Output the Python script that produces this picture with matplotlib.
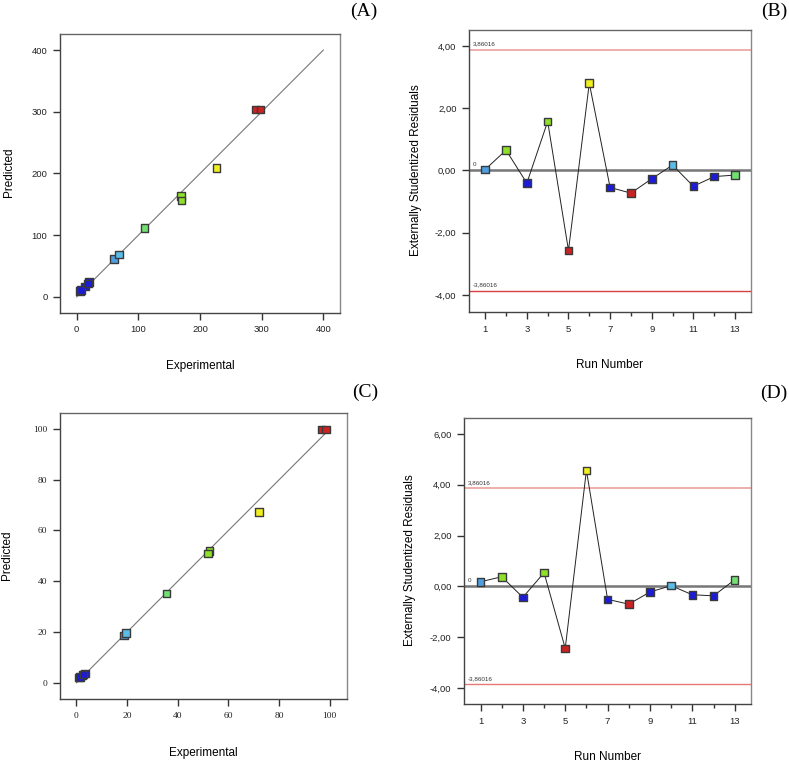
import numpy as np
import matplotlib.pyplot as plt
from matplotlib.ticker import FuncFormatter, MultipleLocator

# colours used by the design software (low -> high response)
BLUE = '#1c1cd8'
LBLUE = '#4f9fe0'
LBLUE2 = '#5cbce8'
GREEN = '#72e072'
YGREEN = '#8ee028'
YELLOW = '#f0f020'
RED = '#cc2222'

run_colors = [LBLUE, YGREEN, BLUE, YGREEN, RED, YELLOW, BLUE, RED, BLUE, LBLUE2, BLUE, BLUE, GREEN]
runs = np.arange(1, 14)

# (A) predicted vs experimental, response 1
exp_a = [61, 169, 14, 170, 290, 227, 5, 298, 20, 69, 7, 18, 110]
pred_a = [61.5, 163.5, 17, 156.5, 304, 209, 10, 304, 24, 68.5, 11, 22, 112]

# (B) externally studentized residuals, response 1
res_b = [0.03, 0.65, -0.41, 1.57, -2.57, 2.80, -0.55, -0.73, -0.27, 0.17, -0.51, -0.20, -0.15]

# (C) predicted vs experimental, response 2
exp_c = [18.8, 52.5, 2.4, 52.0, 96.7, 72.1, 1.0, 98.6, 3.3, 19.5, 1.3, 2.8, 35.5]
pred_c = [18.6, 52.0, 3.0, 50.9, 99.8, 67.4, 2.1, 99.8, 3.7, 19.5, 2.3, 3.3, 35.1]

# (D) externally studentized residuals, response 2
res_d = [0.18, 0.38, -0.43, 0.54, -2.44, 4.57, -0.51, -0.70, -0.22, 0.03, -0.33, -0.37, 0.26]

limit = 3.86016

W, H = 789, 764
fig = plt.figure(figsize=(W / 100, H / 100), dpi=100)

SANS = 'Liberation Sans'
SERIF = 'Liberation Serif'


def box(l, t, r, b):
    return fig.add_axes([l / W, 1 - b / H, (r - l) / W, (b - t) / H])


def style(ax, tickfont=SANS):
    for s in ax.spines.values():
        s.set_color('#444444')
        s.set_linewidth(1.0)
    ax.spines['right'].set_color('#888888')
    ax.spines['top'].set_color('#666666')
    ax.tick_params(direction='out', length=5, width=1, color='#333333',
                   labelsize=6.8, labelcolor='#222222', pad=4)
    for lab in ax.get_xticklabels() + ax.get_yticklabels():
        lab.set_family(tickfont)


def squares(ax, x, y, colors):
    ax.scatter(x, y, s=30, marker='s', color=colors, edgecolors='#3a3a3a',
               linewidths=1.0, zorder=4)


def figtext(x, y, s, **kw):
    fig.text(x / W, 1 - y / H, s, ha='center', va='center', **kw)


comma = FuncFormatter(lambda v, p: ('%.2f' % v).replace('.', ','))

# ---- (A)
ax = box(60, 34, 340, 313)
ax.plot([0, 400], [0, 400], color='#777777', lw=0.8, zorder=2)
squares(ax, exp_a, pred_a, run_colors)
ax.set_xlim(-27, 427)
ax.set_ylim(-26, 426)
ax.set_xticks([0, 100, 200, 300, 400])
ax.set_yticks([0, 100, 200, 300, 400])
style(ax)
figtext(200, 366, 'Experimental', family=SANS, fontsize=8.5)
figtext(9, 172, 'Predicted', family=SANS, fontsize=8.5, rotation=90)
figtext(364, 11, '(A)', family=SERIF, fontsize=14)


def residuals(ax, res, ylim, yticks, low_color):
    ax.axhline(0, color='#777777', lw=1.8, zorder=1)
    ax.axhline(limit, color='#eea0a0', lw=1.2, zorder=1)
    ax.axhline(-limit, color=low_color, lw=1.0, zorder=1)
    ax.plot(runs, res, color='#222222', lw=0.7, zorder=2)
    squares(ax, runs, res, run_colors)
    ax.set_xlim(0.22, 13.77)
    ax.set_ylim(*ylim)
    ax.set_yticks(yticks)
    ax.yaxis.set_major_formatter(comma)
    ax.xaxis.set_major_locator(MultipleLocator(2, offset=1))
    ax.xaxis.set_minor_locator(MultipleLocator(1))
    style(ax)
    ax.tick_params(axis='x', which='minor', direction='out', length=3, width=1, color='#333333')
    ax.text(0.4, limit + 0.12, '3,86016', fontsize=4.5, family=SANS, color='#333333', va='bottom')
    ax.text(0.4, -limit + 0.12, '-3,86016', fontsize=4.5, family=SANS, color='#333333', va='bottom')
    ax.text(0.4, 0.12, '0', fontsize=4.5, family=SANS, color='#333333', va='bottom')


# ---- (B)
ax = box(469, 30, 751, 312)
residuals(ax, res_b, (-4.55, 4.51), [-4, -2, 0, 2, 4], '#d84040')
figtext(609, 365, 'Run Number', family=SANS, fontsize=8.5)
figtext(416, 170, 'Externally Studentized Residuals', family=SANS, fontsize=8.5, rotation=90)
figtext(774, 11, '(B)', family=SERIF, fontsize=14)

# ---- (C)
ax = box(60, 413, 347, 699)
ax.plot([0, 100], [0, 100], color='#777777', lw=0.8, zorder=2)
squares(ax, exp_c, pred_c, run_colors)
ax.set_xlim(-6.5, 106.8)
ax.set_ylim(-6.4, 106.3)
ax.set_xticks([0, 20, 40, 60, 80, 100])
ax.set_yticks([0, 20, 40, 60, 80, 100])
style(ax, tickfont=SERIF)
figtext(203, 753, 'Experimental', family=SANS, fontsize=8.5)
figtext(7, 555, 'Predicted', family=SANS, fontsize=8.5, rotation=90)
figtext(365, 392, '(C)', family=SERIF, fontsize=14)

# ---- (D)
ax = box(464, 418, 751, 704)
residuals(ax, res_d, (-4.63, 6.63), [-4, -2, 0, 2, 4, 6], '#e87878')
figtext(607, 757, 'Run Number', family=SANS, fontsize=8.5)
figtext(410, 560, 'Externally Studentized Residuals', family=SANS, fontsize=8.5, rotation=90)
figtext(774, 393, '(D)', family=SERIF, fontsize=14)

fig.savefig('out.png', dpi=100)
